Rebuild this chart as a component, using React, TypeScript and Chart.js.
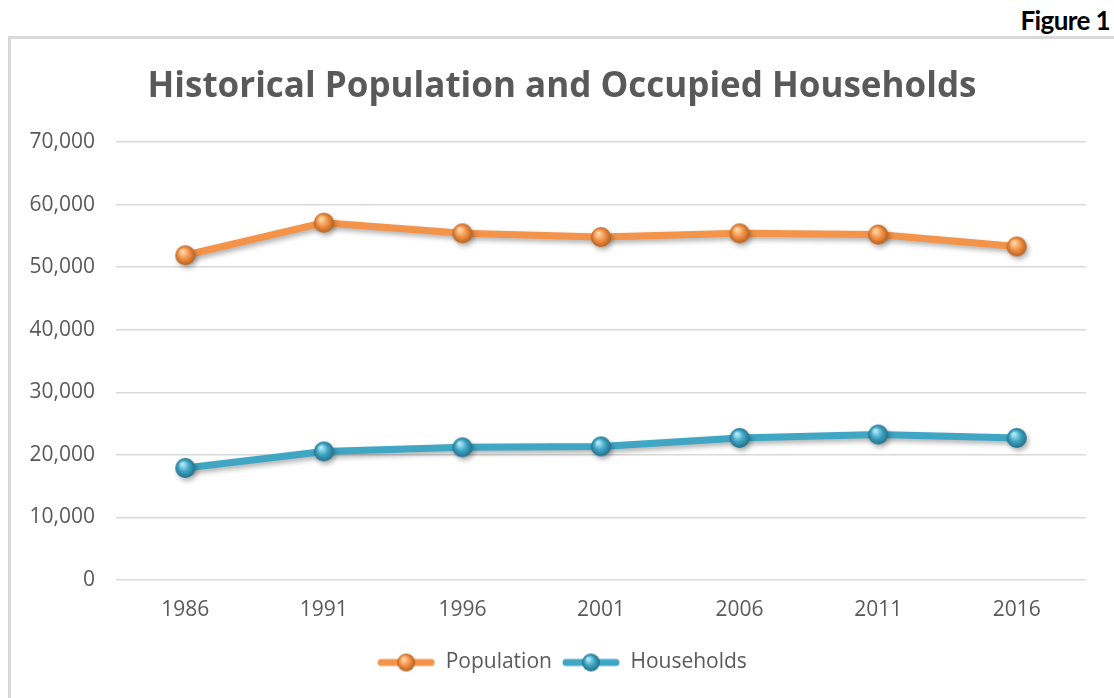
import React, { useEffect, useRef } from "react";
import { Chart, registerables } from "chart.js";

Chart.register(...registerables);

const years = ["1986", "1991", "1996", "2001", "2006", "2011", "2016"];
const population = [51900, 57100, 55400, 54800, 55400, 55200, 53300];
const households = [17900, 20550, 21200, 21350, 22700, 23250, 22700];
const seriesNames = ["Population", "Households"];
const yMin = 0;
const yMax = 70000;
const yStep = 10000;

const ORANGE = "#F4934A";
const BLUE = "#3FA6C4";

function makeBall(base: string, light: string, dark: string, r: number) {
  const size = r * 2 + 2;
  const c = document.createElement("canvas");
  c.width = size;
  c.height = size;
  const ctx = c.getContext("2d")!;
  const cx = size / 2;
  const cy = size / 2;
  const g = ctx.createRadialGradient(cx - r * 0.3, cy - r * 0.4, r * 0.1, cx, cy, r);
  g.addColorStop(0, light);
  g.addColorStop(0.5, base);
  g.addColorStop(1, dark);
  ctx.fillStyle = g;
  ctx.beginPath();
  ctx.arc(cx, cy, r, 0, Math.PI * 2);
  ctx.fill();
  return c;
}

function makeLegendImg(color: string, ball: HTMLCanvasElement) {
  const w = 58;
  const h = 22;
  const c = document.createElement("canvas");
  c.width = w;
  c.height = h;
  const ctx = c.getContext("2d")!;
  ctx.strokeStyle = color;
  ctx.lineWidth = 7;
  ctx.lineCap = "round";
  ctx.beginPath();
  ctx.moveTo(4, h / 2);
  ctx.lineTo(w - 4, h / 2);
  ctx.stroke();
  ctx.drawImage(ball, w / 2 - ball.width / 2, h / 2 - ball.height / 2);
  return c;
}

const shadowPlugin = {
  id: "shadowLines",
  beforeDatasetDraw(chart: any) {
    const ctx = chart.ctx;
    ctx.save();
    ctx.shadowColor = "rgba(0,0,0,0.3)";
    ctx.shadowBlur = 5;
    ctx.shadowOffsetX = 2;
    ctx.shadowOffsetY = 3;
  },
  afterDatasetDraw(chart: any) {
    chart.ctx.restore();
  },
};

const TICK_FONT = { family: "'Open Sans'", size: 21 };

export default function App() {
  const ref = useRef<HTMLCanvasElement>(null);

  useEffect(() => {
    if (!ref.current) return;
    const orangeBall = makeBall(ORANGE, "#FFD9A8", "#B8601C", 10);
    const blueBall = makeBall(BLUE, "#B2EAF7", "#22708A", 10);
    const orangeLegend = makeLegendImg(ORANGE, makeBall(ORANGE, "#FFD9A8", "#B8601C", 9));
    const blueLegend = makeLegendImg(BLUE, makeBall(BLUE, "#B2EAF7", "#22708A", 9));
    const legendImgs = [orangeLegend, blueLegend];

    const chart = new Chart(ref.current, {
      type: "line",
      data: {
        labels: years,
        datasets: [
          {
            label: seriesNames[0],
            data: population,
            borderColor: ORANGE,
            backgroundColor: ORANGE,
            borderWidth: 7,
            borderCapStyle: "round",
            borderJoinStyle: "round",
            pointStyle: orangeBall as any,
            pointRadius: 10,
            tension: 0,
            clip: false as any,
          },
          {
            label: seriesNames[1],
            data: households,
            borderColor: BLUE,
            backgroundColor: BLUE,
            borderWidth: 7,
            borderCapStyle: "round",
            borderJoinStyle: "round",
            pointStyle: blueBall as any,
            pointRadius: 10,
            tension: 0,
            clip: false as any,
          },
        ],
      },
      options: {
        animation: false,
        responsive: false,
        layout: { padding: { left: 20, right: 10, top: 0, bottom: 15 } },
        plugins: {
          title: {
            display: true,
            text: "Historical Population and Occupied Households",
            color: "#595959",
            font: { family: "'Open Sans'", size: 35, weight: "bold" },
            padding: { top: 66, bottom: 34 },
          },
          legend: {
            position: "bottom",
            labels: {
              usePointStyle: true,
              pointStyleWidth: 58,
              color: "#595959",
              font: TICK_FONT,
              padding: 10,
              generateLabels: (c: any) =>
                c.data.datasets.map((ds: any, i: number) => ({
                  text: ds.label,
                  pointStyle: legendImgs[i],
                  fillStyle: ds.borderColor,
                  strokeStyle: ds.borderColor,
                  lineWidth: 0,
                  hidden: false,
                  datasetIndex: i,
                  fontColor: "#595959",
                })),
            },
          },
          tooltip: { enabled: false },
        },
        scales: {
          x: {
            offset: true,
            grid: { display: false, drawTicks: false },
            border: { display: false },
            ticks: {
              color: "#595959",
              font: TICK_FONT,
              padding: 17,
              maxRotation: 0,
            },
            afterFit: (s: any) => {
              s.height = 62;
            },
          },
          y: {
            min: yMin,
            max: yMax,
            grid: { color: "#d9d9d9", lineWidth: 1.5, drawTicks: false },
            border: { display: false },
            ticks: {
              stepSize: yStep,
              color: "#595959",
              font: TICK_FONT,
              padding: 21,
              callback: (v: any) => Number(v).toLocaleString("en-US"),
            },
            afterFit: (s: any) => {
              s.width = 96;
            },
          },
          yRightSpace: {
            type: "linear",
            position: "right",
            display: true,
            grid: { display: false, drawTicks: false },
            border: { display: false },
            ticks: { display: false },
            afterFit: (s: any) => {
              s.width = 18;
            },
          },
        },
      },
      plugins: [shadowPlugin],
    });
    return () => chart.destroy();
  }, []);

  return (
    <div
      style={{
        position: "fixed",
        left: 0,
        top: 0,
        width: 1114,
        height: 698,
        overflow: "hidden",
        background: "#fff",
      }}
    >
      <div
        style={{
          position: "absolute",
          left: 8,
          top: 36,
          width: 1200,
          height: 800,
          borderLeft: "3px solid #d9d9d9",
          borderTop: "3px solid #d9d9d9",
        }}
      />
      <div
        style={{
          position: "absolute",
          right: 4,
          top: 4,
          font: "bold 26px Lato",
          color: "#000",
          letterSpacing: "-0.6px",
        }}
      >
        Figure 1
      </div>
      <canvas
        ref={ref}
        width={1114}
        height={698}
        style={{ position: "absolute", left: 0, top: 0 }}
      />
    </div>
  );
}
